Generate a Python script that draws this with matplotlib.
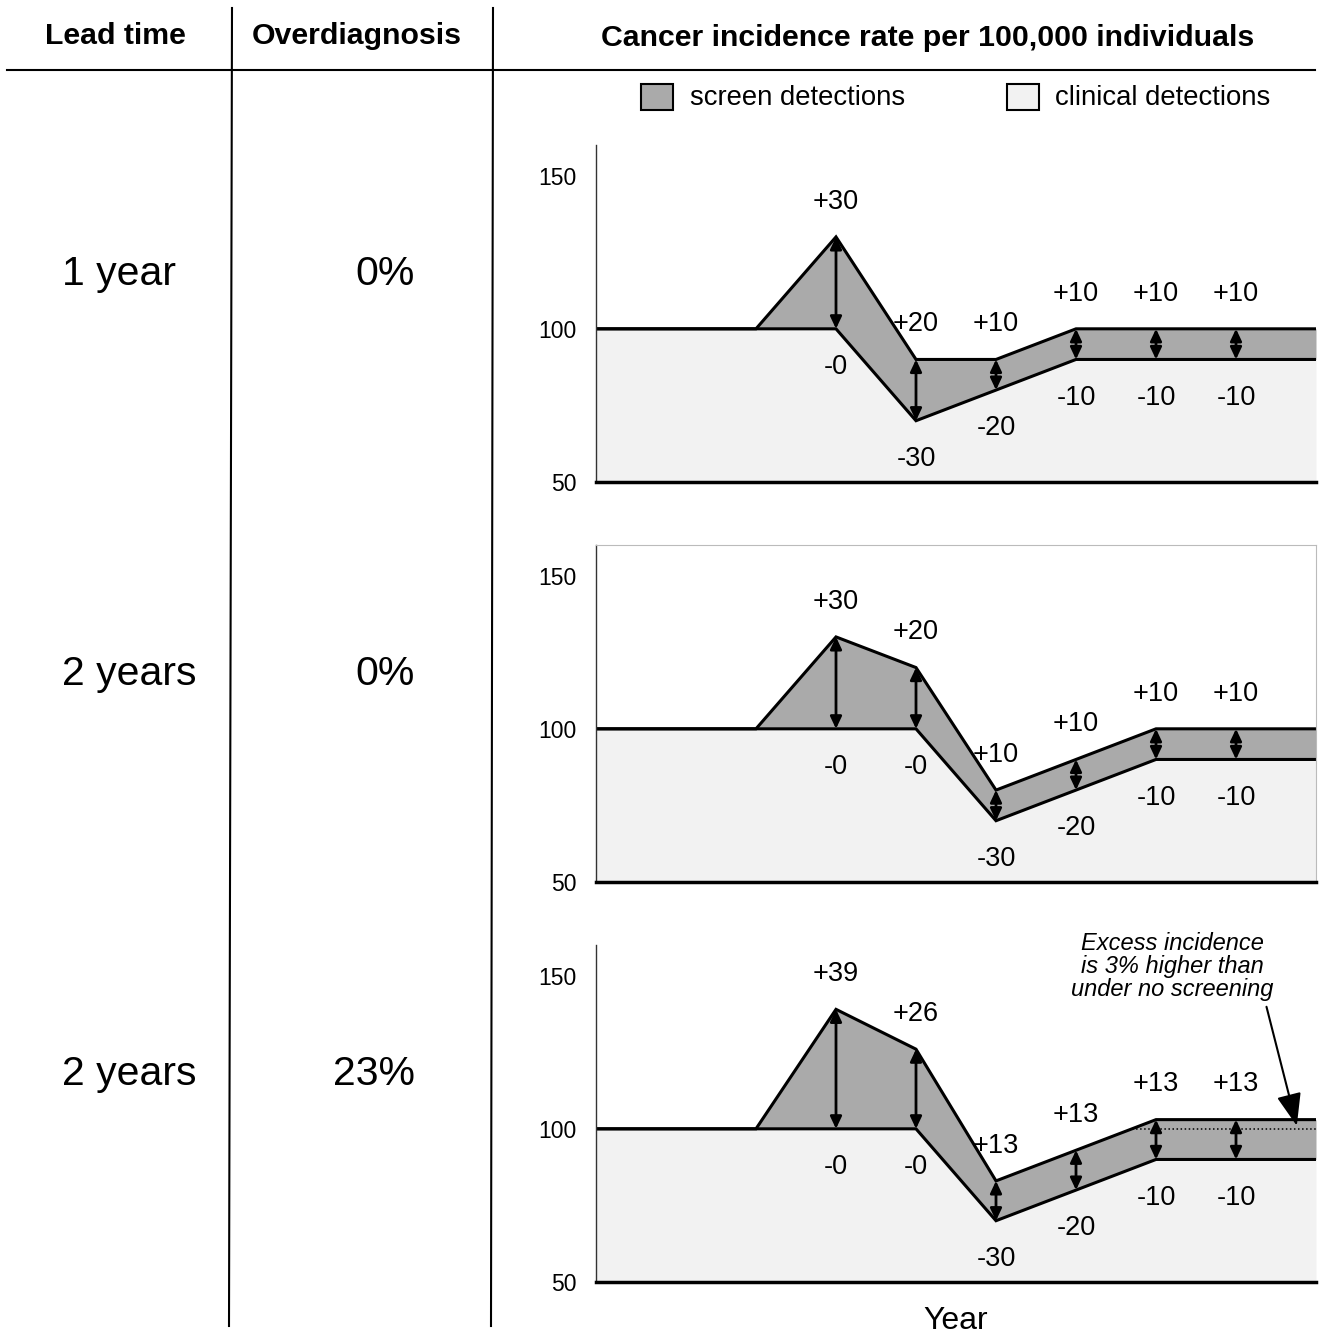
import matplotlib.pyplot as plt
import matplotlib.patches as mpatches
from matplotlib.lines import Line2D

plt.rcParams['font.family'] = ['Liberation Sans', 'DejaVu Sans']

# data
years = [0, 1, 2, 3, 4, 5, 6, 7, 8, 9]
label_years = [3, 4, 5, 6, 7, 8]
baseline = 100

lead_times = ["1 year", "2 years", "2 years"]
overdiagnosis = ["0%", "0%", "23%"]

clinical_1 = [100, 100, 100, 100, 70, 80, 90, 90, 90, 90]
screen_1 = [0, 0, 0, 30, 20, 10, 10, 10, 10, 10]

clinical_2 = [100, 100, 100, 100, 100, 70, 80, 90, 90, 90]
screen_2 = [0, 0, 0, 30, 20, 10, 10, 10, 10, 10]

clinical_3 = [100, 100, 100, 100, 100, 70, 80, 90, 90, 90]
screen_3 = [0, 0, 0, 39, 26, 13, 13, 13, 13, 13]

panels = [(clinical_1, screen_1), (clinical_2, screen_2), (clinical_3, screen_3)]

SCREEN_COL = '#aaaaaa'
CLIN_COL = '#f2f2f2'
W, H = 1323, 1334


def fx(px):
    return px / W


def fy(py):
    return 1 - py / H


def draw_panel(ax, clinical, screen, boxed=False):
    total = [c + s for c, s in zip(clinical, screen)]
    ax.fill_between(years, 50, clinical, color=CLIN_COL, lw=0)
    ax.fill_between(years, clinical, total, color=SCREEN_COL, lw=0)
    ax.plot(years, total, color='black', lw=2.2, solid_joinstyle='miter')
    ax.plot(years, clinical, color='black', lw=2.2, solid_joinstyle='miter')
    for x in label_years:
        c = clinical[x]
        s = screen[x]
        t = c + s
        ax.annotate('', xy=(x, t), xytext=(x, c),
                    arrowprops=dict(arrowstyle='<|-|>,head_length=0.36,head_width=0.17',
                                    mutation_scale=20, lw=2, color='black',
                                    shrinkA=0, shrinkB=0))
        ax.text(x, t + 11.5, f"+{s}", ha='center', va='center', fontsize=19.5)
        ax.text(x, c - 12.5, f"-{baseline - c}", ha='center', va='center', fontsize=19.5)
    ax.set_xlim(0, 9)
    ax.set_ylim(50, 160)
    ax.set_yticks([50, 100, 150])
    ax.set_xticks([])
    ax.tick_params(axis='y', length=0, pad=14, labelsize=16.5)
    ax.spines['bottom'].set_linewidth(2.5)
    ax.spines['left'].set_linewidth(1)
    ax.spines['left'].set_color('#333333')
    if boxed:
        for side in ['top', 'right']:
            ax.spines[side].set_color('#bbbbbb')
            ax.spines[side].set_linewidth(0.8)
    else:
        ax.spines['top'].set_visible(False)
        ax.spines['right'].set_visible(False)
    return total


fig = plt.figure(figsize=(13.23, 13.34), dpi=100)

panel_tops = [145, 545, 945]
row_centers = [274, 674, 1074]
axes = []
for i, (clin, scr) in enumerate(panels):
    top = panel_tops[i]
    ax = fig.add_axes([fx(596), fy(top + 337), fx(720), 337 / H])
    draw_panel(ax, clin, scr, boxed=(i == 1))
    axes.append(ax)

    fig.text(fx(62), fy(row_centers[i]), lead_times[i], ha='left', va='center', fontsize=29.5)
    fig.text(fx(415), fy(row_centers[i]), overdiagnosis[i], ha='right', va='center', fontsize=29.5)

# excess note in the last panel
ax3 = axes[2]
ax3.plot([6.7, 9], [baseline, baseline], ls=':', color='black', lw=1.1)
ax3.annotate("Excess incidence\nis 3% higher than\nunder no screening",
             xy=(8.76, 101), xytext=(7.2, 153), ha='center', va='center',
             fontsize=17, fontstyle='italic', linespacing=1.02,
             annotation_clip=False,
             arrowprops=dict(arrowstyle='-|>,head_length=1.0,head_width=0.38',
                             mutation_scale=20, lw=1.5, color='black',
                             shrinkA=2, shrinkB=0, relpos=(0.96, 0)))
ax3.set_xlabel('Year', fontsize=23, labelpad=17)

# header
fig.text(fx(115), fy(36), "Lead time", ha='center', va='center', fontsize=21.8, fontweight='bold')
fig.text(fx(357), fy(36), "Overdiagnosis", ha='center', va='center', fontsize=21.8, fontweight='bold')
fig.text(fx(928), fy(38), "Cancer incidence rate per 100,000 individuals",
         ha='center', va='center', fontsize=21.8, fontweight='bold')

# table rules
fig.add_artist(Line2D([fx(7), fx(1315)], [fy(70), fy(70)], color='black', lw=1.5))
fig.add_artist(Line2D([fx(232), fx(229)], [fy(8), fy(1326)], color='black', lw=1.5))
fig.add_artist(Line2D([fx(493), fx(491)], [fy(8), fy(1326)], color='black', lw=1.5))

# legend
fig.add_artist(mpatches.Rectangle((fx(641), fy(110)), fx(32), 26 / H,
                                  facecolor=SCREEN_COL, edgecolor='black', lw=1.5))
fig.text(fx(690), fy(98), "screen detections", ha='left', va='center', fontsize=19.8)
fig.add_artist(mpatches.Rectangle((fx(1007), fy(110)), fx(32), 26 / H,
                                  facecolor=CLIN_COL, edgecolor='black', lw=1.5))
fig.text(fx(1055), fy(98), "clinical detections", ha='left', va='center', fontsize=19.8)

plt.savefig("out.png", dpi=100)
